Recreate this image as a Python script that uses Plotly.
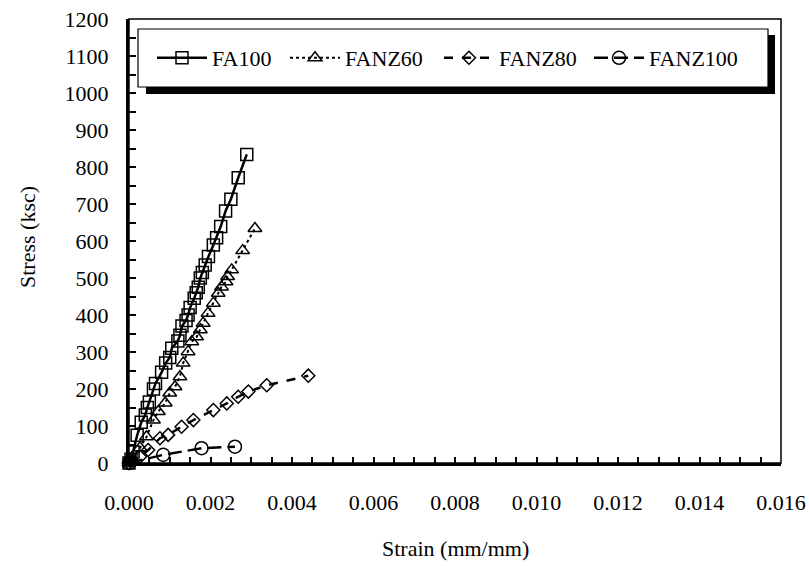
import plotly.graph_objects as go

# ---- data ----
fa100_strain = [0.0, 0.00005, 0.0001, 0.0002, 0.0003, 0.0004, 0.00045, 0.0005, 0.0006, 0.00065,
                0.0008, 0.0009, 0.001, 0.00105, 0.0012, 0.00125, 0.0013, 0.0014, 0.00145, 0.0015,
                0.0016, 0.00165, 0.0017, 0.00175, 0.0018, 0.00187, 0.00195, 0.00207, 0.00215,
                0.00225, 0.00237, 0.0025, 0.00268, 0.00289]
fa100_stress = [0, 10, 30, 75, 110, 130, 150, 165, 200, 215,
                245, 270, 285, 310, 330, 345, 370, 385, 400, 420,
                445, 460, 475, 500, 515, 535, 558, 589, 609,
                639, 681, 713, 771, 834]

fanz60_strain = [0.0, 0.00007, 0.00027, 0.00043, 0.0006, 0.00072, 0.00089, 0.001, 0.00113,
                 0.00125, 0.00133, 0.00145, 0.00154, 0.00166, 0.00175, 0.00182, 0.00194,
                 0.00207, 0.00219, 0.00227, 0.00238, 0.00242, 0.00252, 0.00279, 0.00309]
fanz60_stress = [0, 14, 41, 71, 116, 139, 162, 189, 206,
                 233, 270, 301, 328, 341, 360, 378, 405,
                 432, 459, 476, 490, 504, 522, 574, 634]

fanz80_strain = [0.0, 0.00003, 0.00027, 0.00047, 0.00076, 0.00096, 0.00129, 0.00158, 0.00207,
                 0.0024, 0.00268, 0.00293, 0.00338, 0.0044]
fanz80_stress = [0, 5, 17, 35, 67, 76, 98, 116, 143,
                 161, 179, 193, 210, 236]

fanz100_strain = [0.0, 0.00084, 0.00178, 0.0026]
fanz100_stress = [0, 22, 40, 44]

series_names = ["FA100", "FANZ60", "FANZ80", "FANZ100"]
x_ticks = [0.000, 0.002, 0.004, 0.006, 0.008, 0.010, 0.012, 0.014, 0.016]
y_ticks = [0, 100, 200, 300, 400, 500, 600, 700, 800, 900, 1000, 1100, 1200]

FONT = "Liberation Serif"
FS = 22

FW, FH = 810, 566
# plot-area geometry in window pixels
L, R, T, B = 129, 781, 19, 463
W, H = R - L, B - T

def px(x):
    return (x - L) / W

def py(y):
    return (B - y) / H

fig = go.Figure()

styles = [
    dict(sym="square-open", size=12, dash="solid", width=2.5),
    dict(sym="triangle-up-open", size=12, dash="dot", width=2),
    dict(sym="diamond-open", size=10, dash="dash", width=2.5),
    dict(sym="circle-open", size=13, dash="14px,6px", width=2.5),
]
data = [(fa100_strain, fa100_stress), (fanz60_strain, fanz60_stress),
        (fanz80_strain, fanz80_stress), (fanz100_strain, fanz100_stress)]
legend_ids = ["legend", "legend2", "legend3", "legend4"]
legend_px = [152, 285, 439, 589]

for (xs, ys), name, st, lid in zip(data, series_names, styles, legend_ids):
    fig.add_trace(go.Scatter(
        x=xs, y=ys, name=name, mode="lines+markers", cliponaxis=False,
        line=dict(color="black", width=st["width"], dash=st["dash"]),
        marker=dict(symbol=st["sym"], size=st["size"], color="black",
                    line=dict(width=1.5, color="black")),
        legend=lid,
    ))

leg_common = dict(orientation="h", bgcolor="rgba(0,0,0,0)", borderwidth=0,
                  font=dict(family=FONT, size=FS, color="black"),
                  xanchor="left", yanchor="middle", itemwidth=50)
layout_legends = {}
for lid, lx in zip(legend_ids, legend_px):
    layout_legends[lid] = dict(leg_common, x=px(lx), y=py(58))

fig.update_layout(
    width=FW, height=FH,
    margin=dict(l=L, r=FW - R, t=T, b=FH - B, autoexpand=False),
    paper_bgcolor="white", plot_bgcolor="white",
    font=dict(family=FONT, size=FS, color="black"),
    showlegend=True,
    **layout_legends,
    xaxis=dict(range=[0, 0.016], tickvals=x_ticks, tickformat=".3f",
               ticks="inside", ticklen=6, tickwidth=1.5, tickcolor="black",
               minor=dict(dtick=0.0005, ticks="inside", ticklen=6, tickwidth=1.5, tickcolor="black"),
               showline=True, linewidth=3, linecolor="black", mirror=False,
               showgrid=False, zeroline=False, ticklabelstandoff=18,
               ticklabeloverflow="allow",
               tickfont=dict(family=FONT, size=FS)),
    yaxis=dict(range=[0, 1200], tickvals=y_ticks,
               ticks="inside", ticklen=7, tickwidth=1.5, tickcolor="black",
               minor=dict(dtick=50, ticks="inside", ticklen=7, tickwidth=1.5, tickcolor="black"),
               showline=True, linewidth=3, linecolor="black", mirror=False,
               showgrid=False, zeroline=False, ticklabelstandoff=13,
               ticklabeloverflow="allow",
               tickfont=dict(family=FONT, size=FS)),
    shapes=[
        dict(type="rect", xref="paper", yref="paper", x0=0, x1=1, y0=0, y1=1,
             line=dict(color="black", width=1.5), fillcolor="rgba(0,0,0,0)", layer="above"),
        dict(type="rect", xref="paper", yref="paper", x0=px(146), x1=px(775), y0=py(94), y1=py(35),
             line=dict(width=0), fillcolor="black", layer="above"),
        dict(type="rect", xref="paper", yref="paper", x0=px(138), x1=px(768), y0=py(87), y1=py(29),
             line=dict(color="black", width=1.2), fillcolor="white", layer="above"),
    ],
    annotations=[
        dict(text="Stress (ksc)", xref="paper", yref="paper", x=px(27), y=py(237),
             showarrow=False, textangle=-90, font=dict(family=FONT, size=FS),
             xanchor="center", yanchor="middle"),
        dict(text="Strain (mm/mm)", xref="paper", yref="paper", x=px(455), y=py(548),
             showarrow=False, font=dict(family=FONT, size=FS),
             xanchor="center", yanchor="middle"),
    ],
)

fig.write_html(
    "out.html",
    config={"displayModeBar": False},
    post_script="document.body.style.margin='0';document.body.style.overflow='hidden';",
)
